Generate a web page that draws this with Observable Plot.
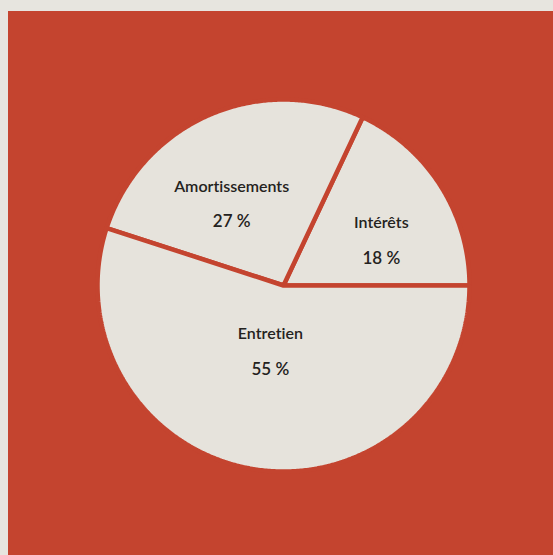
<!DOCTYPE html>
<html>
<head>
<meta charset="utf-8">
<script src="https://cdn.jsdelivr.net/npm/d3@7"></script>
<script src="https://cdn.jsdelivr.net/npm/@observablehq/plot@0.6"></script>
<style>
  html, body { margin: 0; padding: 0; background: #e7e5df; width: 553px; height: 555px; overflow: hidden; }
  #frame { position: absolute; left: 8px; top: 11px; width: 545px; height: 544px; background: #c4442f; }
  svg text { font-variant-ligatures: none; font-feature-settings: "liga" 0, "clig" 0; }
</style>
</head>
<body>
<div id="frame"></div>
<script>
// Data (order: counter-clockwise from 3 o'clock)
const categories = ["Intérêts", "Amortissements", "Entretien"];
const shares = [18, 27, 55];
const shareLabels = ["18 %", "27 %", "55 %"];

const RED = "#c4442f";
const SLICE = "#e6e3dc";

// label placement tweaks (angle offset in degrees, radius fraction)
const labelTweak = { "Intérêts": [-7.5, 0.58], "Amortissements": [9, 0.52], "Entretien": [-2.3, 0.36] };

const total = d3.sum(shares);
let cum = 0;
const slicePts = [];
const labels = [];
categories.forEach((c, i) => {
  const a0 = cum / total * 2 * Math.PI;
  cum += shares[i];
  const a1 = cum / total * 2 * Math.PI;
  slicePts.push({cat: c, x: 0, y: 0});
  const n = Math.max(2, Math.ceil((a1 - a0) / (Math.PI / 360)));
  for (let k = 0; k <= n; k++) {
    const a = a0 + (a1 - a0) * k / n;
    slicePts.push({cat: c, x: Math.cos(a), y: Math.sin(a)});
  }
  const [dt, rf] = labelTweak[c];
  const am = (a0 + a1) / 2 + dt * Math.PI / 180;
  labels.push({cat: c, pct: shareLabels[i], x: rf * Math.cos(am), y: rf * Math.sin(am)});
});

const W = 545, H = 544, cx = 275, cy = 274, R = 186;
const font = "Lato, 'DejaVu Sans', sans-serif";

const chart = Plot.plot({
  width: W,
  height: H,
  margin: 0,
  style: { background: "transparent", overflow: "visible" },
  x: { domain: [-1, 1], range: [cx - R, cx + R], axis: null },
  y: { domain: [-1, 1], range: [cy + R, cy - R], axis: null },
  marks: [
    Plot.line(slicePts, {x: "x", y: "y", z: "cat", curve: "linear-closed",
      fill: SLICE, stroke: RED, strokeWidth: 4.5, strokeLinejoin: "miter"}),
    Plot.text(labels, {x: "x", y: "y", text: "cat", dy: -17, fontSize: 16,
      fontFamily: font, fontWeight: 600, fill: "#242220", letterSpacing: "1.6px"}),
    Plot.text(labels, {x: "x", y: "y", text: "pct", dy: 18, fontSize: 17,
      fontFamily: font, fontWeight: 600, fill: "#242220", letterSpacing: "1px"})
  ]
});
document.getElementById("frame").appendChild(chart);
</script>
</body>
</html>
